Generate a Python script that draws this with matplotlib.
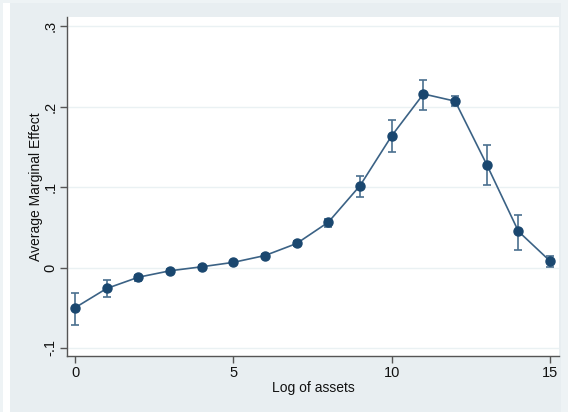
import numpy as np
import matplotlib.pyplot as plt
from matplotlib.patches import Rectangle

# average marginal effect by log of assets, with 95% CI
log_assets = np.arange(0, 16)
ame = [-0.050, -0.026, -0.012, -0.004, 0.001, 0.0065, 0.015, 0.030,
       0.0565, 0.102, 0.164, 0.216, 0.207, 0.128, 0.045, 0.008]
ci_low = [-0.071, -0.036, -0.0165, -0.0065, -0.001, 0.0045, 0.0125, 0.027,
          0.050, 0.088, 0.1436, 0.196, 0.2005, 0.103, 0.022, 0.001]
ci_high = [-0.032, -0.016, -0.009, -0.0015, 0.003, 0.0085, 0.0175, 0.033,
           0.061, 0.114, 0.183, 0.233, 0.2137, 0.153, 0.065, 0.014]
yticks = [-0.1, 0, 0.1, 0.2, 0.3]
ytick_labels = ["-.1", "0", ".1", ".2", ".3"]
xticks = [0, 5, 10, 15]

plt.rcParams['font.family'] = ['Liberation Sans', 'DejaVu Sans']

bg = '#e8eef1'
navy = '#1a476f'

fig = plt.figure(figsize=(5.68, 4.12), dpi=100)
fig.patch.set_facecolor(bg)
# white margin strip on the left and light strips around the graph
fig.add_artist(Rectangle((3/568, 0), 7/568, 1, transform=fig.transFigure,
                         facecolor='white', edgecolor='none', zorder=-1))
fig.add_artist(Rectangle((0, 0), 3/568, 1, transform=fig.transFigure,
                         facecolor='#eef3f5', edgecolor='none', zorder=-1))
fig.add_artist(Rectangle((561/568, 0), 7/568, 1, transform=fig.transFigure,
                         facecolor='#eef3f5', edgecolor='none', zorder=-1))
fig.add_artist(Rectangle((0, 409/412), 1, 3/412, transform=fig.transFigure,
                         facecolor='#eef3f5', edgecolor='none', zorder=-1))

ax = fig.add_axes([67/568, 56/412, 492/568, 339/412])
ax.set_facecolor('white')

ame = np.array(ame)
yerr = [ame - np.array(ci_low), np.array(ci_high) - ame]
ax.errorbar(log_assets, ame, yerr=yerr, fmt='none', ecolor='#4a6f8f',
            elinewidth=1.2, capsize=3, capthick=1.2, zorder=2)
ax.plot(log_assets, ame, color='#3b6285', lw=1.2, zorder=3)
ax.plot(log_assets, ame, 'o', color=navy, ms=6.5, zorder=4)

ax.set_xlim(-0.253, 15.28)
ax.set_ylim(-0.11, 0.3117)
ax.set_xticks(xticks)
ax.set_yticks(yticks)
ax.set_yticklabels(ytick_labels, rotation=90, va='center')
ax.grid(axis='y', color='#eaf1f3', lw=1)
ax.set_axisbelow(True)

for s in ['top', 'right']:
    ax.spines[s].set_visible(False)
for s in ['left', 'bottom']:
    ax.spines[s].set_color('#555555')
    ax.spines[s].set_linewidth(1)
ax.tick_params(axis='both', length=5, width=1, color='#555555',
               labelsize=10.5, labelcolor='#111111')
ax.tick_params(axis='x', pad=2)
ax.tick_params(axis='y', pad=2)

ax.set_xlabel("Log of assets", fontsize=10, color='#111111', labelpad=1)
ax.set_ylabel("Average Marginal Effect", fontsize=10, color='#111111', labelpad=0)

fig.savefig("out.png", dpi=100, facecolor=fig.get_facecolor())
